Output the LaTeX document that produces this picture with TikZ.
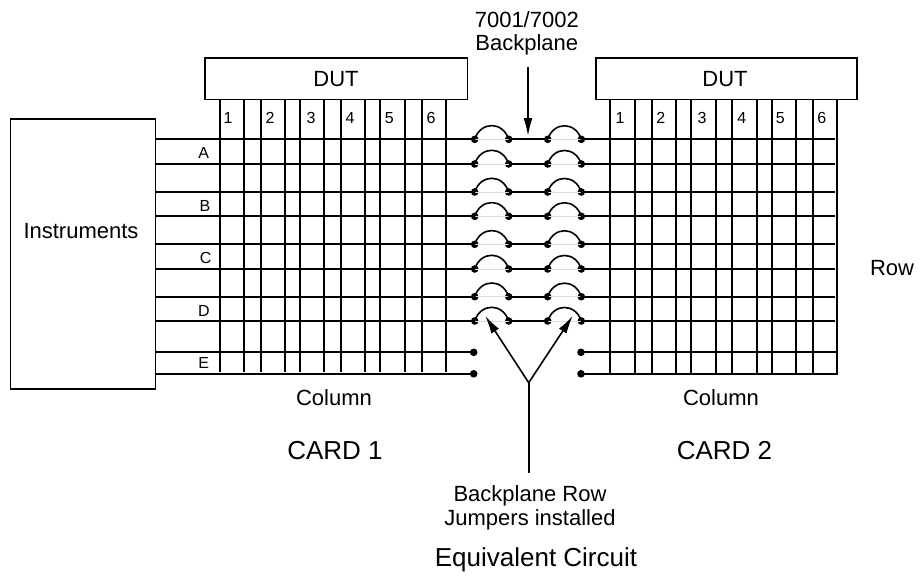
\documentclass[tikz,border=0pt]{standalone}
\usepackage{fontspec}
\setmainfont{Liberation Sans}
\usetikzlibrary{arrows.meta}
\tikzset{
  wire/.style={line width=1.7pt,line cap=butt},
  boxed/.style={draw,line width=1.7pt,inner sep=0pt},
  dot/.style={circle,fill=black,inner sep=0pt,minimum size=7.6pt},
  jumper/.style={line width=1.6pt,out=72,in=108,looseness=1.45},
  pointer/.style={line width=1.6pt,-{Latex[length=18pt,width=9pt]}},
  faint/.style={line width=0.6pt,black!14},
  lab/.style={inner sep=0pt,anchor=base,font=\fontsize{22}{25}\selectfont},
  small/.style={inner sep=0pt,font=\fontsize{16}{18}\selectfont},
  big/.style={inner sep=0pt,anchor=base,font=\fontsize{26}{29}\selectfont},
}
\begin{document}
\begin{tikzpicture}[x=1pt,y=-1pt]
\useasboundingbox (0,0) rectangle (921,576);
% boxes
\node[boxed,minimum width=145pt,minimum height=270pt,anchor=north west] (inst) at (9.5,118) {};
\node[lab] (instlab) at (81,238.8) {Instruments};
\node[boxed,minimum width=262.7pt,minimum height=41.5pt,anchor=north west] (dut1) at (204,57.2) {};
\node[lab] (dutlab1) at (336,86) {DUT};
\node[boxed,minimum width=261pt,minimum height=41.5pt,anchor=north west] (dut2) at (595,57.2) {};
\node[lab] (dutlab2) at (725,86) {DUT};
% row coordinates and contacts
\foreach \n/\y in {1/139.3,2/164,3/192,4/216.3,5/244.3,6/269,7/296.7,8/321}{
  \coordinate (ls\n) at (154.5,\y);
  \coordinate (re\n) at (835,\y);
  \node[dot] (a\n) at (474.7,\y) {};
  \node[dot] (b\n) at (508.7,\y) {};
  \node[dot] (c\n) at (547.7,\y) {};
  \node[dot] (d\n) at (581.3,\y) {};
  \draw[faint] (a\n.center) -- (b\n.center);
  \draw[faint] (c\n.center) -- (d\n.center);
  \draw[wire] (ls\n) -- (a\n.center);
  \draw[wire] (b\n.center) -- (c\n.center);
  \draw[wire] (d\n.center) -- (re\n);
  \draw[jumper] (a\n.center) to (b\n.center);
  \draw[jumper] (c\n.center) to (d\n.center);
}
\foreach \n/\y/\e in {9/352.3/838,10/373.8/838}{
  \coordinate (ls\n) at (154.5,\y);
  \coordinate (re\n) at (\e,\y);
  \node[dot] (a\n) at (473.7,\y) {};
  \node[dot] (d\n) at (581,\y) {};
  \draw[wire] (ls\n) -- (a\n.center);
  \draw[wire] (d\n.center) -- (re\n);
}
% column wires
\foreach \x in {219.7,244,260.7,285,300,324.3,341,365.3,380.3,404.7,421.7,446}{
  \coordinate (t) at (\x,98.7);
  \coordinate (u) at (\x,372);
  \draw[wire] (t) -- (u);
}
\foreach \x in {610.3,635,651.7,676,691.3,715.7,732.3,756.7,772,796,813,837.3}{
  \coordinate (t) at (\x,98.7);
  \coordinate (u) at (\x,374.6);
  \draw[wire] (t) -- (u);
}
% column numbers
\foreach \t/\x in {1/228,2/270,3/311,4/350,5/389.3,6/431,1/620,2/660.7,3/702,4/741.7,5/780.3,6/821.7}{
  \node[small] at (\x,118.3) {\t};
}
% row letters
\foreach \t/\x/\y in {A/203.7/153,B/205/205.7,C/205.7/258,D/204/311,E/203.7/363}{
  \node[small] at (\x,\y) {\t};
}
% labels
\node[lab] (bp1) at (526.8,27.3) {7001/7002};
\node[lab] (bp2) at (526.8,50.7) {Backplane};
\coordinate (bptop) at (528,66.7);
\coordinate (bptip) at (528,136);
\draw[pointer] (bptop) -- (bptip);
\node[lab] (row) at (892,275.5) {Row};
\node[lab] (col1) at (334,405) {Column};
\node[lab] (col2) at (721,405) {Column};
\node[big] (card1) at (335,459) {CARD 1};
\node[big] (card2) at (724.5,459) {CARD 2};
\node[lab] (jump1) at (530,501) {Backplane Row};
\node[lab] (jump2) at (530,525.5) {Jumpers installed};
\coordinate (apex) at (528.7,382.7);
\coordinate (stem) at (528.7,472.7);
\coordinate (tipl) at (485.3,316);
\coordinate (tipr) at (572.7,316);
\draw[line width=1.6pt] (stem) -- (apex);
\draw[pointer] (apex) -- (tipl);
\draw[pointer] (apex) -- (tipr);
\node[big] (title) at (536,566) {Equivalent Circuit};
\end{tikzpicture}
\end{document}
